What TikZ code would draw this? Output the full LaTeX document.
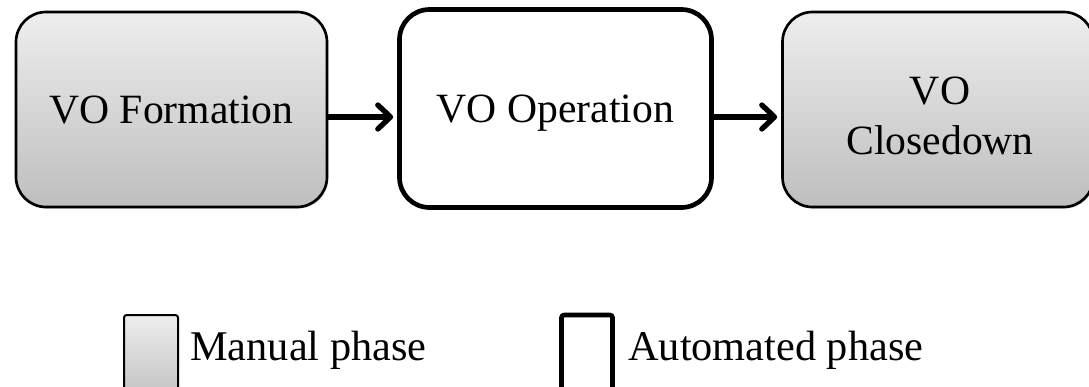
\documentclass[tikz,border=0pt]{standalone}
\usepackage{fontspec}
\setmainfont{Liberation Serif}
\usetikzlibrary{arrows.meta,shadows}
\definecolor{shadetop}{RGB}{238,238,238}
\definecolor{shadebot}{RGB}{190,190,190}
\tikzset{
  phasefont/.style={font=\fontsize{31.25}{37.5}\selectfont},
  keyfont/.style={font=\fontsize{31.75}{37.5}\selectfont},
  boxshadow/.style={drop shadow={shadow xshift=0.9pt, shadow yshift=-1.2pt, opacity=0.18, fill=black}},
  manualbox/.style={draw=black, line width=2pt, rounded corners=22.5pt,
    top color=shadetop, bottom color=shadebot, boxshadow, inner sep=0pt,
    text height=20.25pt, text depth=0pt, phasefont},
  autobox/.style={draw=black, line width=3.5pt, rounded corners=22.5pt,
    fill=white, boxshadow, inner sep=0pt,
    text height=20.25pt, text depth=0pt, phasefont},
  flow/.style={line width=4pt, -{Straight Barb[length=9.5pt,width=18pt,line cap=round,line join=round]}, shorten >=3pt},
  keymanual/.style={draw=black, line width=1.5pt, rounded corners=2pt,
    top color=shadetop, bottom color=shadebot, inner sep=0pt,
    minimum width=40.5pt, minimum height=67.5pt},
  keyauto/.style={draw=black, line width=3.5pt, rounded corners=2pt,
    fill=white, inner sep=0pt, minimum width=38.25pt, minimum height=67.5pt},
  keytext/.style={keyfont, anchor=base west, inner sep=0pt}
}
\begin{document}
\begin{tikzpicture}[x=0.75pt,y=-0.75pt]
\useasboundingbox (0,0) rectangle (1089,386);
\clip (0,0) rectangle (1089,386);

% the three phases of a virtual organisation
\node[manualbox, minimum width=233.25pt, minimum height=146.25pt] (form) at (171.5,109.5) {VO Formation};
\node[autobox, minimum width=234pt, minimum height=148.5pt] (oper) at (555.5,108.5) {VO Operation};
\node[manualbox, minimum width=233.25pt, minimum height=146.25pt] (close) at (938,109.5) {};
\node[phasefont, align=center, inner sep=0pt] (closetxt) at (940,115.5) {VO\\Closedown};

% transitions
\draw[flow] (form.east |- 0,117) coordinate (f1) -- (oper.west |- f1);
\draw[flow] (oper.east |- 0,117) coordinate (f2) -- (close.west |- f2);

% legend
\node[keymanual] (kman) at (151,360) {};
\node[keytext] (kmantxt) at (190,360) {Manual phase};
\node[keyauto] (kauto) at (587,360) {};
\node[keytext] (kautotxt) at (628,360) {Automated phase};
\end{tikzpicture}
\end{document}
